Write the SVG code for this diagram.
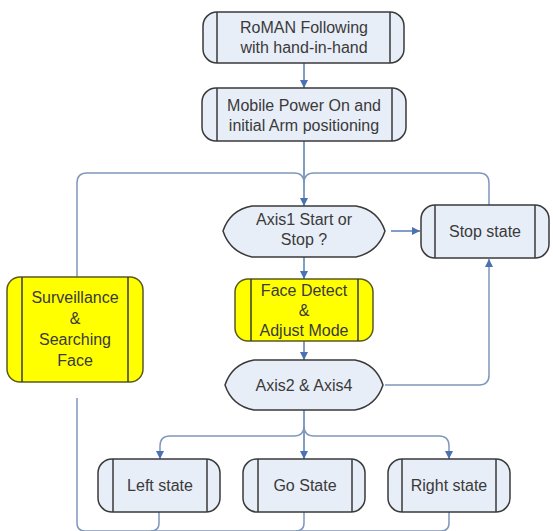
<svg xmlns="http://www.w3.org/2000/svg" width="553" height="531" viewBox="0 0 553 531">
<defs>
<style>
.box{fill:#e8eef8;stroke:#3a3a3a;stroke-width:1.5}
.yel{fill:#ffff00;stroke:#5a5a20;stroke-width:1.5}
.div{stroke:#3a3a3a;stroke-width:1.5;fill:none}
.t{font-family:"Liberation Sans","DejaVu Sans",Arial,sans-serif;font-size:16px;fill:#3a3a3a;text-anchor:middle}
.c{fill:none;stroke:#5a7db5;stroke-width:1.5}
.l{fill:none;stroke:#7f97ba;stroke-width:1.5}
</style>
<marker id="ah" viewBox="0 0 10 10" refX="10" refY="5" markerWidth="8" markerHeight="8" markerUnits="userSpaceOnUse" orient="auto">
<path d="M0,0 L10,5 L0,10 Z" fill="#4a72b0"/>
</marker>
</defs>
<rect width="553" height="531" fill="#ffffff"/>
<g id="connectors">
<path class="c" d="M304,63 L304,88" marker-end="url(#ah)"/>
<path class="c" d="M304,141 L304,206" marker-end="url(#ah)"/>
<path class="l" d="M77,277 L77,183 Q77,173 87,173 L294,173 Q304,173 304,183"/>
<path class="l" d="M489,205 L489,183 Q489,173 479,173 L314,173 Q304,173 304,183"/>
<path class="c" d="M391,231 L420,231" marker-end="url(#ah)"/>
<path class="c" d="M304,257 L304,279" marker-end="url(#ah)"/>
<path class="c" d="M304,341 L304,360" marker-end="url(#ah)"/>
<path class="l" d="M385,385 L479,385 Q489,385 489,375 L489,259" marker-end="url(#ah)"/>
<path class="c" d="M304,410 L304,459" marker-end="url(#ah)"/>
<path class="l" d="M304,426 Q304,436 294,436 L170,436 Q160,436 160,446 L160,459" marker-end="url(#ah)"/>
<path class="l" d="M304,426 Q304,436 314,436 L439,436 Q449,436 449,446 L449,459" marker-end="url(#ah)"/>
<path class="l" d="M77,398 L77,523 Q77,531 85,531 L441,531 Q449,531 449,523 L449,512"/>
<path class="l" d="M159,512 L159,523 Q159,531 151,531"/>
<path class="l" d="M304,512 L304,523 Q304,531 296,531"/>
</g>
<g id="n1">
<rect class="box" x="203" y="12" width="201" height="51" rx="14"/>
<path class="div" d="M217,12 V63 M390,12 V63"/>
<text class="t" x="304" y="33">RoMAN Following</text>
<text class="t" x="304" y="53">with hand-in-hand</text>
</g>
<g id="n2">
<rect class="box" x="202" y="88" width="204" height="53" rx="14"/>
<path class="div" d="M217,88 V141 M392,88 V141"/>
<text class="t" x="304" y="111">Mobile Power On and</text>
<text class="t" x="304" y="131">initial Arm positioning</text>
</g>
<g id="n3">
<path class="box" d="M223,231 Q230,210 252,206 L356,206 Q378,210 385,231 Q378,252 356,257 L252,257 Q230,252 223,231 Z"/>
<text class="t" x="304" y="225">Axis1 Start or</text>
<text class="t" x="304" y="245">Stop ?</text>
</g>
<g id="n4">
<rect class="box" x="421" y="205" width="128" height="53" rx="14"/>
<path class="div" d="M435,205 V258 M535,205 V258"/>
<text class="t" x="485" y="237">Stop state</text>
</g>
<g id="n5">
<rect class="yel" x="7" y="277" width="136" height="105" rx="13"/>
<path class="div" d="M22,277 V382 M128,277 V382"/>
<text class="t" x="75" y="303">Surveillance</text>
<text class="t" x="75" y="324">&amp;</text>
<text class="t" x="75" y="345">Searching</text>
<text class="t" x="75" y="366">Face</text>
</g>
<g id="n6">
<rect class="yel" x="235" y="279" width="138" height="62" rx="13"/>
<path class="div" d="M251,279 V341 M358,279 V341"/>
<text class="t" x="304" y="296">Face Detect</text>
<text class="t" x="304" y="316">&amp;</text>
<text class="t" x="304" y="336">Adjust Mode</text>
</g>
<g id="n7">
<path class="box" d="M225,385 Q232,364 254,360 L355,360 Q376,364 383,385 Q376,406 355,410 L254,410 Q232,406 225,385 Z"/>
<text class="t" x="304" y="391">Axis2 &amp; Axis4</text>
</g>
<g id="n8">
<rect class="box" x="98" y="459" width="122" height="53" rx="14"/>
<path class="div" d="M113,459 V512 M207,459 V512"/>
<text class="t" x="160" y="491">Left state</text>
</g>
<g id="n9">
<rect class="box" x="243" y="459" width="122" height="53" rx="14"/>
<path class="div" d="M258,459 V512 M352,459 V512"/>
<text class="t" x="305" y="491">Go State</text>
</g>
<g id="n10">
<rect class="box" x="388" y="459" width="122" height="53" rx="14"/>
<path class="div" d="M402,459 V512 M496,459 V512"/>
<text class="t" x="449" y="491">Right state</text>
</g>
</svg>
